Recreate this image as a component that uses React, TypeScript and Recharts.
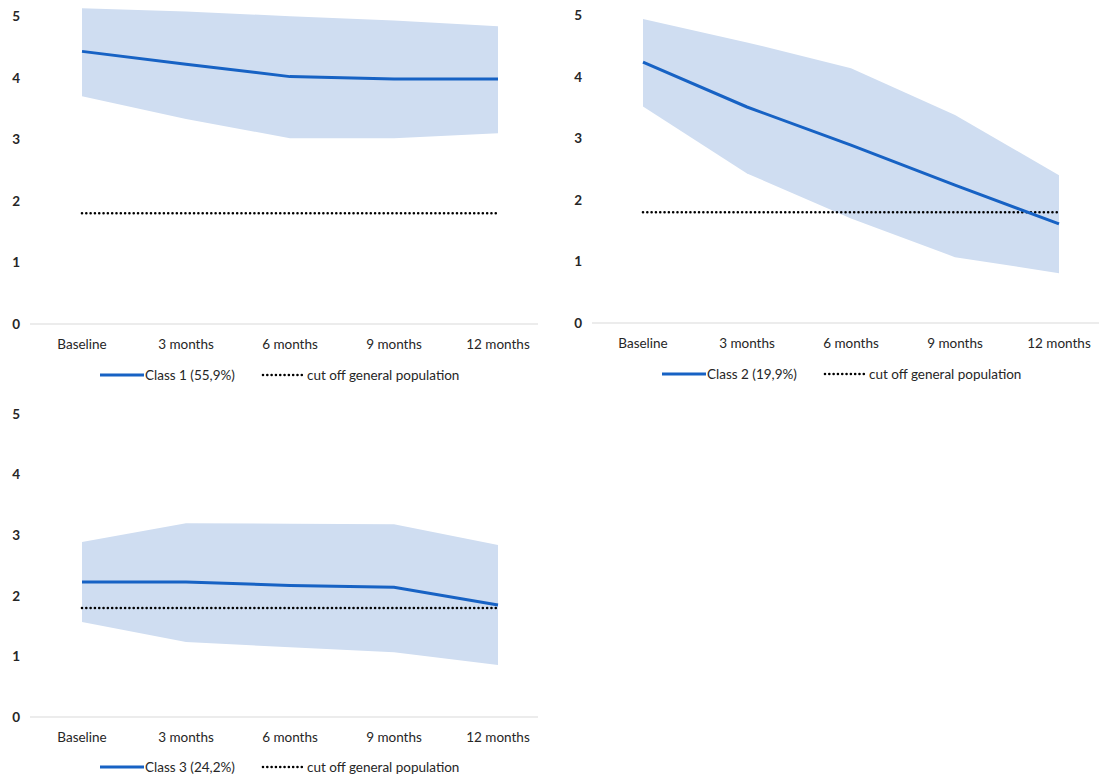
import { ComposedChart, Area, Line, XAxis, YAxis } from 'recharts';

const categories = ['Baseline', '3 months', '6 months', '9 months', '12 months'];
const yTicks = [0, 1, 2, 3, 4, 5];
const cutoff = [1.8, 1.8, 1.8, 1.8, 1.8];

const class1Mean = [4.43, 4.22, 4.02, 3.98, 3.98];
const class1Lower = [3.7, 3.33, 3.02, 3.02, 3.1];
const class1Upper = [5.13, 5.08, 5.0, 4.93, 4.84];

const class2Mean = [4.24, 3.51, 2.89, 2.24, 1.61];
const class2Lower = [3.52, 2.43, 1.7, 1.07, 0.81];
const class2Upper = [4.94, 4.56, 4.14, 3.38, 2.4];

const class3Mean = [2.23, 2.23, 2.17, 2.14, 1.85];
const class3Lower = [1.57, 1.24, 1.15, 1.07, 0.86];
const class3Upper = [2.89, 3.2, 3.19, 3.18, 2.84];

const classLabels = ['Class 1 (55,9%)', 'Class 2 (19,9%)', 'Class 3 (24,2%)'];
const cutoffLabel = 'cut off general population';

const FONT = 'Lato, "Open Sans", sans-serif';
const LINE_BLUE = '#1762c4';
const BAND_BLUE = '#cfddf1';
const AXIS_GREY = '#d9d9d9';
const TEXT = '#262626';
const DOTS = '0.01 4.3';

function buildRows(mean: number[], lower: number[], upper: number[]) {
  return categories.map((name, i) => ({
    name,
    mean: mean[i],
    band: [lower[i], upper[i]],
    cutoff: cutoff[i],
  }));
}

interface ClassChartProps {
  rows: ReturnType<typeof buildRows>;
  width: number;
  height: number;
  marginTop: number;
  marginRight: number;
  padLeft: number;
  padRight: number;
}

function ClassChart({ rows, width, height, marginTop, marginRight, padLeft, padRight }: ClassChartProps) {
  const tickStyle = { fontFamily: FONT, fontSize: 13.5, fill: TEXT };
  return (
    <ComposedChart
      width={width}
      height={height}
      data={rows}
      margin={{ top: marginTop, right: marginRight, bottom: 0, left: 0 }}
    >
      <XAxis
        dataKey="name"
        height={30}
        axisLine={{ stroke: AXIS_GREY, strokeWidth: 1 }}
        tickLine={false}
        tickMargin={9}
        tick={tickStyle}
        padding={{ left: padLeft, right: padRight }}
        interval={0}
      />
      <YAxis
        type="number"
        width={30}
        domain={[0, 5.2]}
        ticks={yTicks}
        axisLine={false}
        tickLine={false}
        tickMargin={4}
        tick={{ ...tickStyle, fontWeight: 700 }}
      />
      <Area
        dataKey="band"
        type="linear"
        stroke="none"
        fill={BAND_BLUE}
        fillOpacity={1}
        isAnimationActive={false}
        activeDot={false}
        dot={false}
      />
      <Line
        dataKey="cutoff"
        type="linear"
        stroke="#000"
        strokeWidth={2.6}
        strokeLinecap="round"
        strokeDasharray={DOTS}
        dot={false}
        activeDot={false}
        isAnimationActive={false}
      />
      <Line
        dataKey="mean"
        type="linear"
        stroke={LINE_BLUE}
        strokeWidth={3}
        dot={false}
        activeDot={false}
        isAnimationActive={false}
      />
    </ComposedChart>
  );
}

function ClassLegend({ label }: { label: string }) {
  return (
    <div style={{ display: 'flex', alignItems: 'center', fontFamily: FONT, fontSize: 13.5, color: TEXT, whiteSpace: 'nowrap' }}>
      <svg width={44} height={10}>
        <line x1={0} y1={5} x2={44} y2={5} stroke={LINE_BLUE} strokeWidth={3} />
      </svg>
      <span style={{ marginLeft: 1 }}>{label}</span>
      <svg width={44} height={10} style={{ marginLeft: 26 }}>
        <line x1={2} y1={5} x2={44} y2={5} stroke="#000" strokeWidth={2.6} strokeLinecap="round" strokeDasharray={DOTS} />
      </svg>
      <span style={{ marginLeft: 2 }}>{cutoffLabel}</span>
    </div>
  );
}

export default function App() {
  const rows1 = buildRows(class1Mean, class1Lower, class1Upper);
  const rows2 = buildRows(class2Mean, class2Lower, class2Upper);
  const rows3 = buildRows(class3Mean, class3Lower, class3Upper);

  return (
    <div style={{ position: 'absolute', left: 0, top: 0, width: 1100, height: 778, background: '#fff', overflow: 'hidden' }}>
      <div style={{ position: 'absolute', left: 0, top: 0 }}>
        <ClassChart rows={rows1} width={560} height={354} marginTop={4} marginRight={22} padLeft={52} padRight={40} />
      </div>
      <div style={{ position: 'absolute', left: 100, top: 367 }}>
        <ClassLegend label={classLabels[0]} />
      </div>

      <div style={{ position: 'absolute', left: 562, top: 0 }}>
        <ClassChart rows={rows2} width={538} height={353} marginTop={3} marginRight={1} padLeft={51} padRight={40} />
      </div>
      <div style={{ position: 'absolute', left: 662, top: 366 }}>
        <ClassLegend label={classLabels[1]} />
      </div>

      <div style={{ position: 'absolute', left: 0, top: 398 }}>
        <ClassChart rows={rows3} width={560} height={349} marginTop={4} marginRight={22} padLeft={52} padRight={40} />
      </div>
      <div style={{ position: 'absolute', left: 100, top: 759 }}>
        <ClassLegend label={classLabels[2]} />
      </div>
    </div>
  );
}
